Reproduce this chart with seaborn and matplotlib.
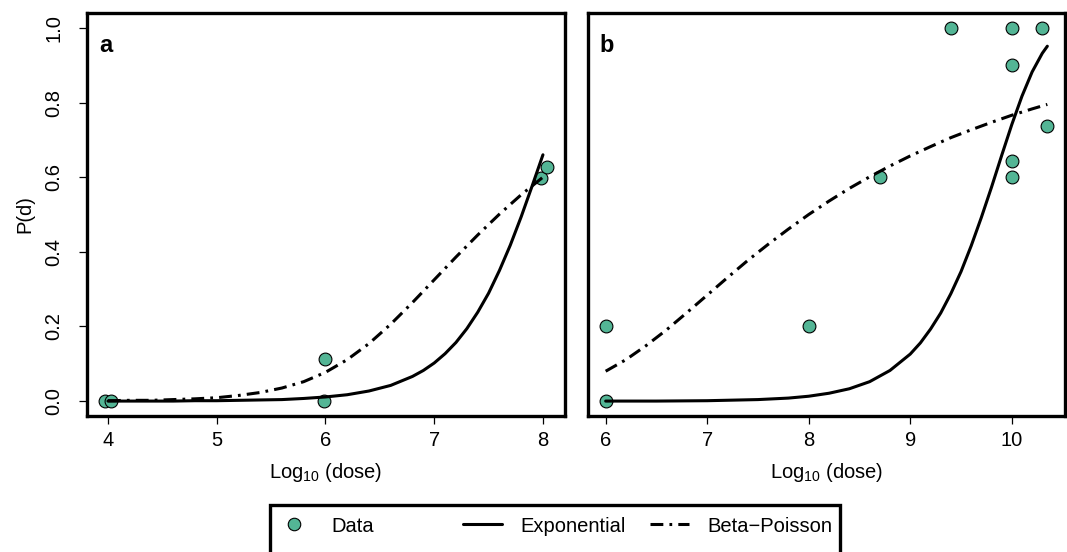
"""Dose-response fits: exponential vs beta-Poisson, two panels."""

import matplotlib

matplotlib.use("Agg")
import matplotlib.pyplot as plt
import seaborn as sns
from matplotlib.lines import Line2D
from matplotlib.patches import Rectangle

# ---- panel a -------------------------------------------------------------
a_dose = [3.97, 4.03, 6.0, 5.99, 7.98, 8.04]
a_resp = [0.0, 0.0, 0.112, 0.0, 0.599, 0.626]

a_exp_x = [4.0, 4.2, 4.4, 4.6, 4.8, 5.0, 5.2, 5.4, 5.6, 5.8, 6.0, 6.2, 6.4, 6.6,
           6.8, 6.9, 7.0, 7.1, 7.2, 7.3, 7.4, 7.5, 7.6, 7.7, 7.8, 7.9, 8.0]
a_exp_y = [0.000, 0.000, 0.000, 0.000, 0.001, 0.001, 0.002, 0.003, 0.004, 0.007,
           0.011, 0.017, 0.027, 0.042, 0.066, 0.082, 0.102, 0.127, 0.157, 0.194,
           0.238, 0.289, 0.350, 0.418, 0.494, 0.576, 0.660]

a_bp_x = [4.0, 4.2, 4.4, 4.6, 4.8, 5.0, 5.2, 5.4, 5.6, 5.8, 6.0, 6.2, 6.4, 6.6,
          6.8, 7.0, 7.2, 7.4, 7.6, 7.8, 8.0]
a_bp_y = [0.001, 0.002, 0.002, 0.004, 0.006, 0.009, 0.015, 0.023, 0.035, 0.052,
          0.077, 0.111, 0.154, 0.206, 0.264, 0.325, 0.386, 0.445, 0.501, 0.553, 0.600]

a_xticks = [4, 5, 6, 7, 8]

# ---- panel b -------------------------------------------------------------
b_dose = [6.0, 6.0, 8.0, 8.7, 9.4, 10.0, 10.0, 10.0, 10.0, 10.3, 10.35]
b_resp = [0.2, 0.0, 0.2, 0.6, 1.0, 1.0, 0.9, 0.643, 0.6, 1.0, 0.736]

b_exp_x = [6.0, 6.5, 7.0, 7.5, 7.8, 8.0, 8.2, 8.4, 8.6, 8.8, 9.0, 9.1, 9.2, 9.3,
           9.4, 9.5, 9.6, 9.7, 9.8, 9.9, 10.0, 10.1, 10.2, 10.3, 10.35]
b_exp_y = [0.000, 0.000, 0.001, 0.004, 0.008, 0.013, 0.021, 0.033, 0.052, 0.082,
           0.126, 0.156, 0.193, 0.236, 0.288, 0.347, 0.416, 0.492, 0.573, 0.658,
           0.741, 0.817, 0.882, 0.932, 0.951]

b_bp_x = [6.0, 6.2, 6.4, 6.6, 6.8, 7.0, 7.2, 7.4, 7.6, 7.8, 8.0, 8.2, 8.4, 8.6,
          8.8, 9.0, 9.2, 9.4, 9.6, 9.8, 10.0, 10.2, 10.35]
b_bp_y = [0.080, 0.111, 0.149, 0.191, 0.237, 0.284, 0.331, 0.377, 0.420, 0.461,
          0.500, 0.536, 0.570, 0.601, 0.630, 0.657, 0.682, 0.706, 0.727, 0.747,
          0.766, 0.783, 0.795]

b_xticks = [6, 7, 8, 9, 10]

y_ticks = [0.0, 0.2, 0.4, 0.6, 0.8, 1.0]
legend_labels = ["Data", "Exponential", "Beta\u2212Poisson"]

POINT_COLOR = "#53B595"
DASHDOT = (0, (4.2, 2.0, 0.9, 2.0))
FS = 14.5
LW = 2.2
FRAME_LW = 2.4

sns.set_theme(style="white")
plt.rcParams["font.family"] = ["Liberation Sans", "DejaVu Sans"]
plt.rcParams["mathtext.default"] = "regular"
plt.rcParams["text.color"] = "black"
plt.rcParams["axes.labelcolor"] = "black"


def r_range(vals):
    lo, hi = min(vals), max(vals)
    pad = 0.04 * (hi - lo)
    return lo - pad, hi + pad


def draw_panel(ax, dose, resp, exp_x, exp_y, bp_x, bp_y, xticks, tag):
    sns.scatterplot(x=dose, y=resp, ax=ax, s=85, color=POINT_COLOR,
                    edgecolor="black", linewidth=0.8, zorder=1)
    sns.lineplot(x=exp_x, y=exp_y, ax=ax, color="black", linewidth=LW,
                 estimator=None, sort=False, zorder=3)
    sns.lineplot(x=bp_x, y=bp_y, ax=ax, color="black", linewidth=LW,
                 linestyle=DASHDOT, estimator=None, sort=False, zorder=3)

    ax.set_xticks(xticks)
    ax.set_xticklabels([str(t) for t in xticks])
    ax.set_xlim(*r_range(dose))
    ax.set_ylim(*r_range(y_ticks))
    for sp in ax.spines.values():
        sp.set_visible(True)
        sp.set_linewidth(FRAME_LW)
        sp.set_color("black")
    ax.tick_params(axis="x", direction="out", length=6, width=0.9,
                   labelsize=FS, pad=5, bottom=True, colors="black")
    ax.set_xlabel(r"Log$_{10}$ (dose)", fontsize=FS, color="black")
    ax.xaxis.set_label_coords(0.5, -(472 - 416) / 403)
    ax.xaxis.label.set_va("center")
    ax.text(0.04, 0.92, tag, transform=ax.transAxes, fontsize=17,
            fontweight="bold", ha="center", va="center", color="black")
    ax.grid(False)


fig = plt.figure(figsize=(10.67, 5.52), dpi=100)
ax_a = fig.add_axes([87 / 1067, 1 - 416 / 552, 478 / 1067, 403 / 552])
ax_b = fig.add_axes([588 / 1067, 1 - 416 / 552, 477 / 1067, 403 / 552])

draw_panel(ax_a, a_dose, a_resp, a_exp_x, a_exp_y, a_bp_x, a_bp_y, a_xticks, "a")
draw_panel(ax_b, b_dose, b_resp, b_exp_x, b_exp_y, b_bp_x, b_bp_y, b_xticks, "b")

# y axis only on the left panel
ax_a.set_yticks(y_ticks)
ax_a.set_yticklabels([f"{v:.1f}" for v in y_ticks], rotation=90, va="center")
ax_a.set_ylim(*r_range(y_ticks))
ax_a.tick_params(axis="y", direction="out", length=6, width=0.9,
                 labelsize=FS, pad=11, left=True, colors="black")
ax_a.set_ylabel("P(d)", fontsize=FS, color="black")
ax_a.yaxis.set_label_coords((25 - 87) / 478, 0.5)
ax_a.yaxis.label.set_va("center")
ax_b.set_yticks([])
ax_b.set_ylim(*r_range(y_ticks))
ax_b.set_ylabel("")

# legend below the panels
h_data = Line2D([], [], marker="o", linestyle="none", markersize=9,
                markerfacecolor=POINT_COLOR, markeredgecolor="black",
                markeredgewidth=0.8)
h_exp = Line2D([], [], color="black", linewidth=LW)
h_bp = Line2D([], [], color="black", linewidth=LW, linestyle=DASHDOT)

yc = 1 - 526 / 552
common = dict(frameon=False, borderaxespad=0, borderpad=0, fontsize=FS,
              handlelength=1.93, handletextpad=0.9, loc="center left",
              labelcolor="black")
fig.legend(handles=[h_data], labels=legend_labels[:1],
           bbox_to_anchor=(274.5 / 1067, yc), **common)
fig.legend(handles=[h_exp, h_bp], labels=legend_labels[1:], ncol=2,
           columnspacing=1.24, bbox_to_anchor=(463 / 1067, yc), **common)
fig.add_artist(Rectangle((270 / 1067, 1 - 505 / 552 - 0.2), 570 / 1067, 0.2,
                         transform=fig.transFigure, fill=False,
                         edgecolor="black", linewidth=FRAME_LW, clip_on=False))

fig.savefig("out.png", dpi=100)
